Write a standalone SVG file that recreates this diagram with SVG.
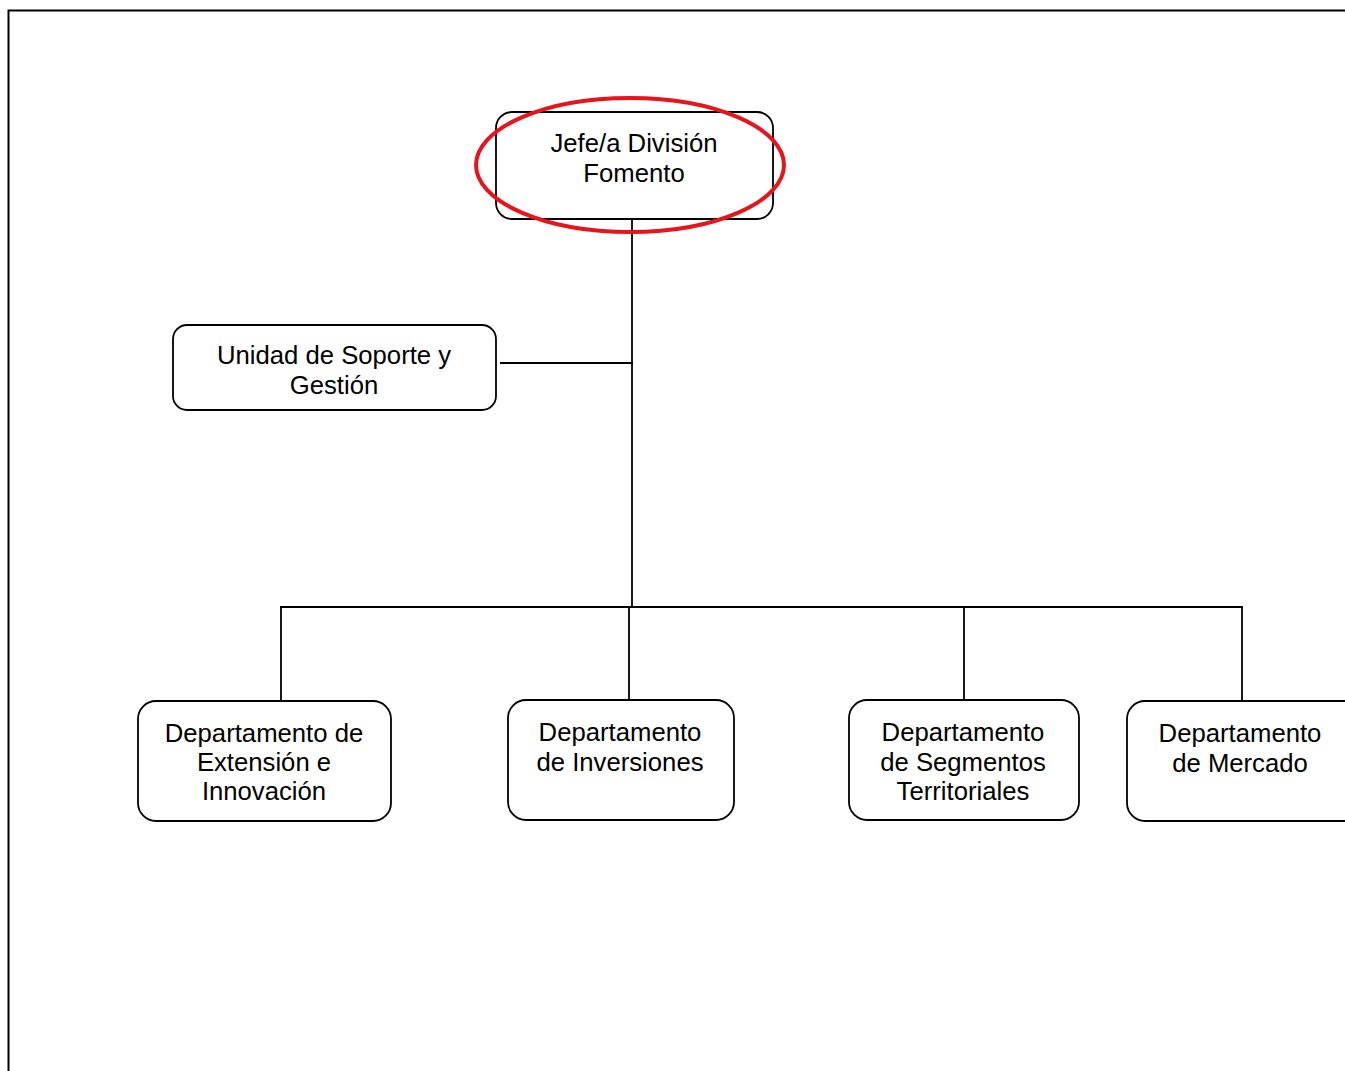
<svg xmlns="http://www.w3.org/2000/svg" width="1345" height="1071" viewBox="0 0 1345 1071">
<style>
.box{fill:#fff;stroke:#000;stroke-width:1.8}
.t{font-family:"Liberation Sans",Arial,sans-serif;font-size:25.7px;fill:#000;text-anchor:middle}
.c{stroke:#000;stroke-width:1.8;fill:none}
</style>
<rect width="1345" height="1071" fill="#fff"/>
<path d="M8.5,1071 V10.5 H1345" fill="none" stroke="#000" stroke-width="2"/>
<g id="connectors">
<line class="c" x1="632" y1="219" x2="632" y2="606"/>
<line class="c" x1="500" y1="363" x2="633" y2="363"/>
<line class="c" x1="280" y1="607" x2="1243" y2="607"/>
<line class="c" x1="281" y1="607" x2="281" y2="701"/>
<line class="c" x1="629" y1="607" x2="629" y2="700"/>
<line class="c" x1="964" y1="607" x2="964" y2="700"/>
<line class="c" x1="1242" y1="607" x2="1242" y2="701"/>
</g>
<g id="jefe">
<rect class="box" x="496" y="112" width="277" height="107" rx="16"/>
<text class="t" x="634" y="152">Jefe/a División</text>
<text class="t" x="634" y="182">Fomento</text>
<ellipse cx="630" cy="165" rx="154" ry="67" fill="none" stroke="#e8141c" stroke-width="4"/>
</g>
<g id="unidad">
<rect class="box" x="173" y="325" width="323" height="85" rx="14"/>
<text class="t" x="334" y="364">Unidad de Soporte y</text>
<text class="t" x="334" y="394">Gestión</text>
</g>
<g id="extension">
<rect class="box" x="138" y="701" width="253" height="120" rx="18"/>
<text class="t" x="264" y="742">Departamento de</text>
<text class="t" x="264" y="771">Extensión e</text>
<text class="t" x="264" y="800">Innovación</text>
</g>
<g id="inversiones">
<rect class="box" x="508" y="700" width="226" height="120" rx="18"/>
<text class="t" x="620" y="741">Departamento</text>
<text class="t" x="620" y="771">de Inversiones</text>
</g>
<g id="segmentos">
<rect class="box" x="849" y="700" width="230" height="120" rx="18"/>
<text class="t" x="963" y="741">Departamento</text>
<text class="t" x="963" y="771">de Segmentos</text>
<text class="t" x="963" y="800">Territoriales</text>
</g>
<g id="mercado">
<rect class="box" x="1127" y="701" width="240" height="120" rx="18"/>
<text class="t" x="1240" y="742">Departamento</text>
<text class="t" x="1240" y="772">de Mercado</text>
</g>
</svg>
